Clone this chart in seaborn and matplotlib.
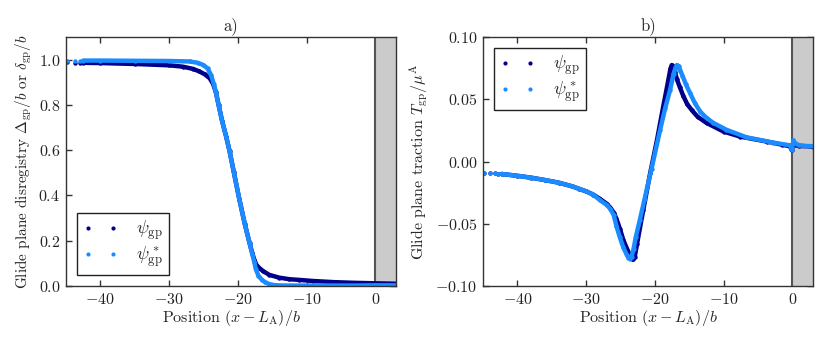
import numpy as np
import seaborn as sns
import matplotlib
matplotlib.use("Agg")
import matplotlib.pyplot as plt
from matplotlib.lines import Line2D

# %% data
# a) disregistry
xa_gp = [-44.9, -43.7, -43.0, -42.5, -40.0, -35.0, -30.0, -28.0, -26.5, -25.6, -24.8, -24.1,
         -23.6, -23.2, -22.8, -22.3, -21.7, -21.2, -20.6, -19.8, -19.0, -18.3, -17.9, -17.6,
         -17.3, -16.9, -16.3, -15.4, -14.0, -12.5, -11.1, -9.0, -6.0, -3.0, 0.0, 1.5, 3.0]
ya_gp = [0.988, 0.987, 0.987, 0.986, 0.985, 0.981, 0.975, 0.969, 0.959, 0.948, 0.935, 0.918,
         0.893, 0.856, 0.800, 0.730, 0.660, 0.595, 0.505, 0.385, 0.275, 0.190, 0.145, 0.115,
         0.093, 0.080, 0.065, 0.049, 0.037, 0.030, 0.027, 0.022, 0.017, 0.014, 0.012, 0.011, 0.010]
xa_st = [-44.9, -43.7, -43.0, -42.5, -40.0, -35.0, -30.0, -27.0, -25.8, -25.0, -24.4, -23.9,
         -23.5, -23.2, -22.8, -22.3, -21.7, -21.2, -20.6, -19.8, -19.0, -18.3, -17.9, -17.6,
         -17.4, -17.0, -16.5, -16.0, -15.4, -14.5, -13.0, -8.0, -3.0, 0.0, 3.0]
ya_st = [0.996, 0.996, 0.996, 0.996, 0.996, 0.995, 0.994, 0.992, 0.986, 0.976, 0.961, 0.932,
         0.892, 0.856, 0.800, 0.730, 0.660, 0.595, 0.505, 0.385, 0.275, 0.190, 0.140, 0.105,
         0.075, 0.045, 0.027, 0.016, 0.008, 0.003, 0.002, 0.002, 0.002, 0.003, 0.003]

# b) traction
xb_gp = [-44.9, -44.0, -43.3, -42.8, -42.3, -40.0, -38.0, -36.0, -34.0, -32.0, -31.0, -30.0,
         -29.0, -28.0, -27.0, -26.5, -26.0, -25.6, -25.1, -24.6, -24.0, -23.6, -23.35, -23.15,
         -22.95, -22.6, -21.7, -20.7, -19.7, -18.8, -18.05, -17.75, -17.55, -17.35, -17.1,
         -16.8, -16.4, -15.9, -15.3, -14.6, -13.8, -12.5, -10.0, -7.6, -3.7, -1.5, -0.35,
         -0.1, 0.15, 0.4, 1.0, 3.0]
yb_gp = [-0.0090, -0.0093, -0.0095, -0.0097, -0.0100, -0.0115, -0.0130, -0.0149, -0.0170,
         -0.0200, -0.0220, -0.0240, -0.0265, -0.0300, -0.0340, -0.0370, -0.0410, -0.0460,
         -0.0540, -0.0630, -0.0710, -0.0755, -0.0780, -0.0786, -0.0770, -0.0660, -0.0390,
         -0.0095, 0.0173, 0.0440, 0.0655, 0.0745, 0.0775, 0.0765, 0.0720, 0.0660, 0.0600,
         0.0530, 0.0460, 0.0410, 0.0360, 0.0310, 0.0240, 0.0200, 0.0160, 0.0135, 0.0122,
         0.0090, 0.0155, 0.0135, 0.0125, 0.0120]
xb_st = [-44.9, -44.0, -43.3, -42.8, -42.3, -40.0, -38.0, -36.0, -34.0, -32.0, -31.0, -30.0,
         -29.0, -28.0, -27.0, -26.5, -26.0, -25.6, -25.1, -24.6, -24.1, -23.85, -23.65, -23.4,
         -23.1, -22.8, -22.2, -21.5, -20.5, -19.25, -18.5, -17.8, -17.3, -17.0, -16.8, -16.55,
         -16.3, -16.0, -15.5, -14.9, -14.2, -13.4, -12.5, -11.5, -9.6, -6.7, -2.8, -0.35,
         -0.1, 0.15, 0.4, 1.0, 2.0, 3.0]
yb_st = [-0.0090, -0.0093, -0.0095, -0.0097, -0.0100, -0.0115, -0.0130, -0.0149, -0.0170,
         -0.0200, -0.0220, -0.0240, -0.0265, -0.0310, -0.0350, -0.0380, -0.0430, -0.0520,
         -0.0610, -0.0690, -0.0750, -0.0772, -0.0780, -0.0765, -0.0700, -0.0610, -0.0470,
         -0.0300, -0.0060, 0.0253, 0.0430, 0.0574, 0.0700, 0.0755, 0.0775, 0.0765, 0.0730,
         0.0690, 0.0620, 0.0550, 0.0470, 0.0400, 0.0350, 0.0310, 0.0255, 0.0195, 0.0152,
         0.0130, 0.0095, 0.0170, 0.0145, 0.0130, 0.0125, 0.0123]

labels = [r"$\psi_{\rm gp}$", r"$\psi^*_{\rm gp}$"]
c_gp = "#00008b"
c_st = "#1a8cff"

# %% style
sns.set_style("ticks")
plt.rcParams["font.family"] = "serif"
plt.rcParams["font.serif"] = ["cmr10", "DejaVu Serif"]
plt.rcParams["mathtext.fontset"] = "cm"
plt.rcParams["axes.formatter.use_mathtext"] = True
plt.rcParams["axes.unicode_minus"] = True
plt.rcParams["axes.edgecolor"] = "#333333"
plt.rcParams["xtick.color"] = "#333333"
plt.rcParams["ytick.color"] = "#333333"
plt.rcParams["xtick.labelcolor"] = "#222222"
plt.rcParams["ytick.labelcolor"] = "#222222"

fig = plt.figure(figsize=(8.3, 3.46), dpi=100)
ax1 = fig.add_axes([0.0795, 0.1734, 0.3976, 0.7196])
ax2 = fig.add_axes([0.582, 0.1734, 0.3976, 0.7196])


def draw(ax, x, y, color):
    x = np.asarray(x)
    y = np.asarray(y)
    dense = x > -42.6
    sns.lineplot(x=x[dense], y=y[dense], ax=ax, color=color, lw=3.2, sort=False,
                 estimator=None, zorder=3, solid_capstyle="round", solid_joinstyle="round")
    sns.scatterplot(x=x, y=y, ax=ax, color=color, s=10, linewidth=0, zorder=3)


for ax in (ax1, ax2):
    ax.axvspan(0, 3, facecolor="#cbcbcb", edgecolor="none", zorder=1)
    ax.axvline(0, color="#555555", lw=1.5, zorder=2)

draw(ax1, xa_gp, ya_gp, c_gp)
draw(ax1, xa_st, ya_st, c_st)
draw(ax2, xb_gp, yb_gp, c_gp)
draw(ax2, xb_st, yb_st, c_st)

ax1.set_xlim(-45, 3)
ax1.set_ylim(0, 1.1)
ax1.set_yticks([0.0, 0.2, 0.4, 0.6, 0.8, 1.0])
ax2.set_xlim(-45, 3)
ax2.set_ylim(-0.1, 0.1)
ax2.set_yticks([-0.10, -0.05, 0.00, 0.05, 0.10])
ax2.yaxis.set_major_formatter(matplotlib.ticker.FormatStrFormatter(r"$%.2f$"))
ax1.yaxis.set_major_formatter(matplotlib.ticker.FormatStrFormatter(r"$%.1f$"))

for ax in (ax1, ax2):
    ax.set_xticks([-40, -30, -20, -10, 0])
    ax.tick_params(direction="in", top=True, right=True, length=4, width=1, labelsize=11.5,
                   pad=4)
    for s in ax.spines.values():
        s.set_linewidth(1.0)
        s.set_zorder(5)
    ax.set_xlabel(r"Position $(x - L_{\rm A})/b$", fontsize=11.5, labelpad=1)

ax1.set_title("a)", fontsize=12, pad=5)
ax2.set_title("b)", fontsize=12, pad=5)
ax1.set_ylabel(r"Glide plane disregistry $\Delta_{\rm gp}/b$ or $\delta_{\rm gp}/b$", fontsize=11, labelpad=3)
ax2.set_ylabel(r"Glide plane traction $T_{\rm gp}/\mu^{\rm A}$", fontsize=11.5, labelpad=3)

handles = [Line2D([], [], ls="none", marker="o", ms=3, color=c_gp, mec="none"),
           Line2D([], [], ls="none", marker="o", ms=3, color=c_st, mec="none")]
for ax, loc in ((ax1, "lower left"), (ax2, "upper left")):
    leg = ax.legend(handles, labels, loc=loc, numpoints=2, fontsize=13, fancybox=False,
                    frameon=True, handlelength=2.0, handletextpad=1.0, borderpad=0.3,
                    labelspacing=0.1, borderaxespad=0.6)
    leg.get_frame().set_edgecolor("#222222")
    leg.get_frame().set_linewidth(1.0)
    leg.get_frame().set_alpha(1)
    leg.set_zorder(6)

fig.savefig("out.png", dpi=100)
